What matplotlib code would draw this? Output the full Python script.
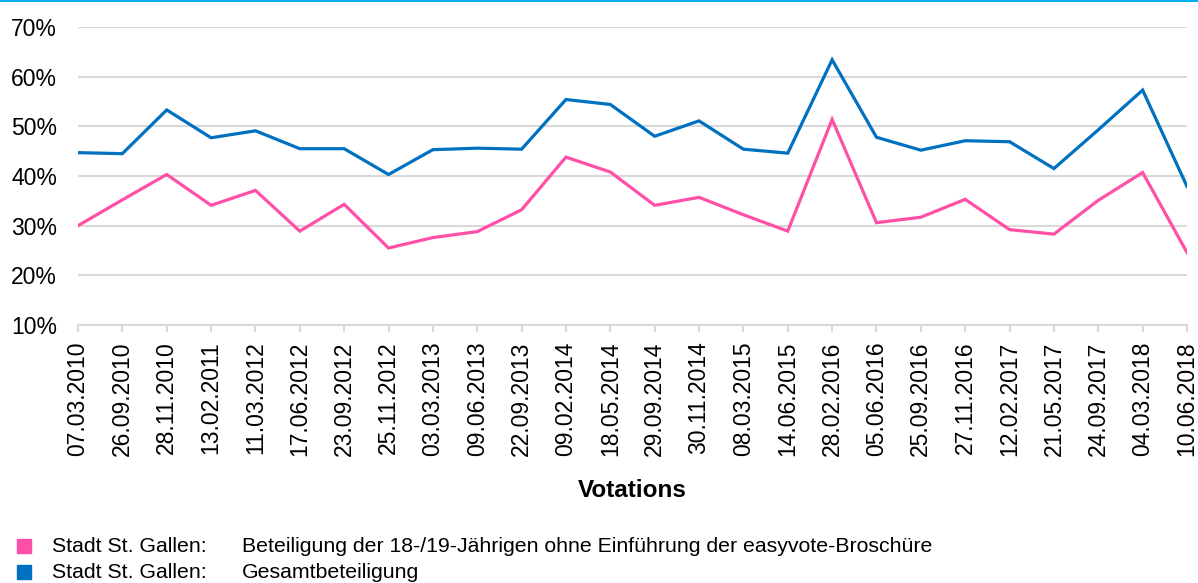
import matplotlib.pyplot as plt
from matplotlib.patches import Rectangle
from matplotlib.lines import Line2D
from matplotlib.ticker import FuncFormatter

plt.rcParams['font.family'] = ['Liberation Sans', 'DejaVu Sans']

# Daten
votations = ['07.03.2010', '26.09.2010', '28.11.2010', '13.02.2011', '11.03.2012',
             '17.06.2012', '23.09.2012', '25.11.2012', '03.03.2013', '09.06.2013',
             '22.09.2013', '09.02.2014', '18.05.2014', '29.09.2014', '30.11.2014',
             '08.03.2015', '14.06.2015', '28.02.2016', '05.06.2016', '25.09.2016',
             '27.11.2016', '12.02.2017', '21.05.2017', '24.09.2017', '04.03.2018',
             '10.06.2018']
jung = [30.0, 35.2, 40.3, 34.1, 37.1, 28.9, 34.3, 25.5, 27.6, 28.8,
        33.2, 43.8, 40.8, 34.1, 35.7, 32.2, 28.9, 51.4, 30.6, 31.7,
        35.3, 29.2, 28.3, 35.1, 40.7, 24.6]
gesamt = [44.7, 44.5, 53.3, 47.7, 49.1, 45.5, 45.5, 40.3, 45.3, 45.6,
          45.4, 55.4, 54.4, 48.0, 51.1, 45.4, 44.6, 63.4, 47.8, 45.2,
          47.1, 46.9, 41.5, 49.3, 57.3, 37.9]
yticks = [10, 20, 30, 40, 50, 60, 70]

legende_links = ['Stadt St. Gallen:', 'Stadt St. Gallen:']
legende_rechts = ['Beteiligung der 18-/19-Jährigen ohne Einführung der easyvote-Broschüre',
                  'Gesamtbeteiligung']
farben = ['#ff4fa7', '#0070c0']

fig = plt.figure(figsize=(11.98, 5.83), dpi=100)
ax = fig.add_axes([78 / 1198, 1 - 325 / 583, (1187 - 78) / 1198, (325 - 27) / 583])

x = list(range(len(votations)))
ax.plot(x, jung, color=farben[0], lw=2.3, solid_joinstyle='miter', zorder=3)
ax.plot(x, gesamt, color=farben[1], lw=2.3, solid_joinstyle='miter', zorder=3)

ax.set_xlim(0, len(votations) - 1)
ax.set_ylim(10, 70)
ax.set_yticks(yticks)
ax.yaxis.set_major_formatter(FuncFormatter(lambda v, p: f'{v:.0f}%'))
ax.set_xticks(x)
ax.set_xticklabels(votations, rotation=90)
ax.tick_params(axis='y', length=0, pad=15, labelsize=16.5)
ax.tick_params(axis='x', length=5, width=1.5, color='#d9d9d9', pad=7, labelsize=16.5)
ax.grid(axis='y', color='#d9d9d9', lw=1.5)
ax.set_axisbelow(True)
for s in ['top', 'right', 'left']:
    ax.spines[s].set_visible(False)
ax.spines['bottom'].set_color('#d9d9d9')
ax.spines['bottom'].set_linewidth(1.5)
ax.set_xlabel('Votations', fontsize=17.5, fontweight='bold', labelpad=16)

# Linie oben
fig.add_artist(Line2D([0, 1], [1 - 1 / 583, 1 - 1 / 583], color='#00b0f0', lw=1.5))

# Legende
for i in range(2):
    yc = 1 - (546 + i * 26) / 583
    fig.add_artist(Rectangle((17 / 1198, yc - 7 / 583), 14 / 1198, 14 / 583,
                             color=farben[i], transform=fig.transFigure))
    fig.text(52 / 1198, yc, legende_links[i], fontsize=15.3, va='center')
    fig.text(242 / 1198, yc, legende_rechts[i], fontsize=15.3, va='center')

fig.savefig('out.png', dpi=100)
